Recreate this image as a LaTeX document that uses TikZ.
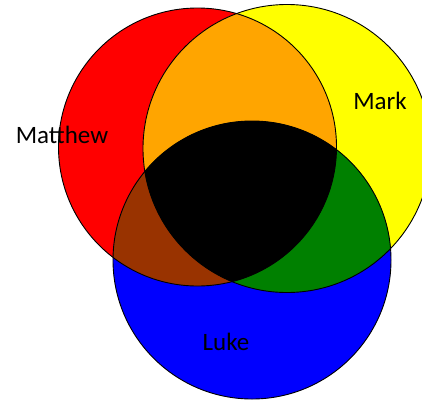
\documentclass[tikz,border=0pt]{standalone}
\usepackage{fontspec}
\setmainfont{Carlito}
\definecolor{vred}{RGB}{255,0,0}
\definecolor{vyellow}{RGB}{255,255,0}
\definecolor{vblue}{RGB}{0,0,255}
\definecolor{vorange}{RGB}{255,165,0}
\definecolor{vbrown}{RGB}{153,51,0}
\definecolor{vgreen}{RGB}{0,128,0}
\tikzset{
  outline/.style={draw=black, line width=0.9pt},
  lbl/.style={font=\fontsize{25}{28}\selectfont, text=black, inner sep=0pt}
}
\begin{document}
\begin{tikzpicture}[x=1pt,y=-1pt]
\useasboundingbox (0,0) rectangle (422,402);
\begin{scope}
\clip (0,0) rectangle (422,402);
% base circles
\fill[vred] (197.5,147) circle[radius=139];
\fill[vyellow] (287,148.5) circle[radius=144];
\fill[vblue] (252,260) circle[radius=139];
% pairwise intersections
\begin{scope}
  \clip (197.5,147) circle[radius=139];
  \fill[vorange] (287,148.5) circle[radius=144];
\end{scope}
\begin{scope}
  \clip (197.5,147) circle[radius=139];
  \fill[vbrown] (252,260) circle[radius=139];
\end{scope}
\begin{scope}
  \clip (287,148.5) circle[radius=144];
  \fill[vgreen] (252,260) circle[radius=139];
\end{scope}
\begin{scope}
  \clip (197.5,147) circle[radius=139];
  \clip (287,148.5) circle[radius=144];
  \fill[black] (252,260) circle[radius=139];
\end{scope}
% outlines
\draw[outline] (197.5,147) circle[radius=139];
\draw[outline] (287,148.5) circle[radius=144];
\draw[outline] (252,260) circle[radius=139];
\end{scope}
\node[lbl] (matthew) at (62,135) {Matthew};
\node[lbl] (mark) at (380,101) {Mark};
\node[lbl] (luke) at (226,342) {Luke};
\end{tikzpicture}
\end{document}
